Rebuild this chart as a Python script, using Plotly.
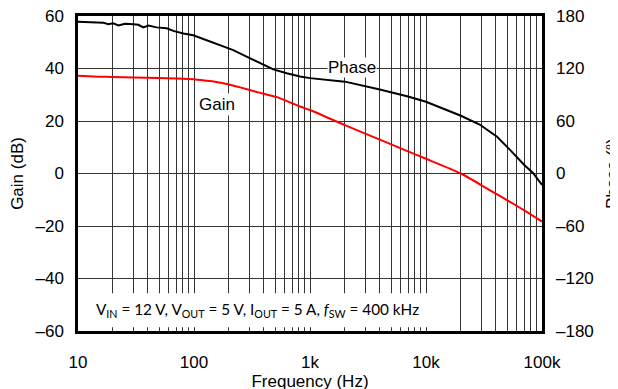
import plotly.graph_objects as go

# ---- data ----
gain_freq = [10, 15, 20, 30, 50, 70, 100, 130, 160, 192, 250, 350, 520, 820, 1000,
             2000, 4000, 7000, 10000, 20000, 35000, 53000, 75000, 100000]
gain_db = [37.2, 36.9, 36.8, 36.6, 36.4, 36.2, 35.9, 35.3, 34.8, 34.1, 32.8, 31.0, 29.1, 25.5, 24.2,
           18.4, 12.9, 8.4, 5.6, 0.0, -6.2, -10.8, -14.8, -18.3]

phase_freq = [10, 13.5, 16.5, 18.2, 20.1, 22.3, 25.4, 30, 33.1, 36.6, 40.4, 47.6, 58.2, 66.4, 81,
              98.6, 128, 167, 218, 284, 371, 483, 630, 820, 1000, 2000, 4000, 7000, 10000,
              20000, 29000, 41000, 53000, 70000, 83600, 100000]
phase_deg = [173.5, 172.8, 172.4, 170.5, 171.7, 169.2, 171.2, 170.5, 170.0, 167.0, 169.0, 167.0, 166.0, 163.0, 160.0,
             158.0, 152.6, 147.0, 141.0, 133.6, 126.0, 119.0, 114.6, 110.8, 109.0, 105.0, 96.0, 88.0, 82.0,
             66.0, 56.0, 42.0, 27.0, 10.0, 0.6, -13.0]

x_decades = [10, 100, 1000, 10000, 100000]
x_decade_labels = ["10", "100", "1k", "10k", "100k"]
gain_ticks = [-60, -40, -20, 0, 20, 40, 60]
gain_tick_labels = ["\u201360", "\u201340", "\u201320", "0", "20", "40", "60"]
phase_ticks = [-180, -120, -60, 0, 60, 120, 180]
phase_tick_labels = ["\u2013180", "\u2013120", "\u201360", "0", "60", "120", "180"]

# x ticks: every 1..9 multiple gets a gridline, only decades get a label
x_tickvals, x_ticktext = [], []
for d, lab in zip(x_decades, x_decade_labels):
    x_tickvals.append(d)
    x_ticktext.append(lab)
    if d < x_decades[-1]:
        for m in range(2, 10):
            x_tickvals.append(d * m)
            x_ticktext.append("")

FONT = "Liberation Sans, Arial, sans-serif"
FS = 17

fig = go.Figure()
fig.add_trace(go.Scatter(x=gain_freq, y=gain_db, mode="lines", name="Gain",
                         line=dict(color="#ff0000", width=2, shape="spline", smoothing=0.6),
                         yaxis="y"))
fig.add_trace(go.Scatter(x=phase_freq, y=phase_deg, mode="lines", name="Phase",
                         line=dict(color="#000000", width=2),
                         yaxis="y2"))

# the page body adds an 8 px offset; margins below compensate for it
fig.update_layout(
    width=618, height=389,
    margin=dict(l=70, r=84, t=8, b=66, autoexpand=False),
    paper_bgcolor="white", plot_bgcolor="white",
    showlegend=False,
    font=dict(family=FONT, size=FS, color="black"),
    xaxis=dict(type="log", range=[1, 5], tickvals=x_tickvals, ticktext=x_ticktext,
               showgrid=True, gridcolor="#333333", gridwidth=1,
               showline=True, linecolor="black", linewidth=2.5, mirror=True,
               ticks="", ticklen=0, ticklabelstandoff=14, zeroline=False, automargin=False,
               ticklabeloverflow="allow",
               title=dict(text="Frequency (Hz)", standoff=4,
                          font=dict(family=FONT, size=FS))),
    yaxis=dict(range=[-60, 60], tickvals=gain_ticks, ticktext=gain_tick_labels,
               showgrid=True, gridcolor="#333333", gridwidth=1,
               showline=True, linecolor="black", linewidth=2.5, mirror=True,
               ticks="", ticklen=0, ticklabelstandoff=8, zeroline=False, automargin=False,
               ticklabeloverflow="allow",
               title=dict(text="Gain (dB)", standoff=10,
                          font=dict(family=FONT, size=FS))),
    yaxis2=dict(range=[-180, 180], tickvals=phase_ticks, ticktext=phase_tick_labels,
                overlaying="y", side="right", showgrid=False, zeroline=False,
                showline=False, ticks="", ticklen=0, ticklabelstandoff=13, automargin=False,
                ticklabeloverflow="allow",
                title=dict(text="Phase (\u00b0)", standoff=13,
                           font=dict(family=FONT, size=FS))),
)

# white box behind the operating-condition note (hides gridlines)
fig.add_shape(type="rect", xref="paper", yref="paper",
              x0=0.004, x1=0.81, y0=0.012, y1=0.12,
              fillcolor="white", line=dict(width=0), layer="above")

fig.add_annotation(xref="paper", yref="paper", x=0.387, y=0.066,
                   text="V<sub>IN</sub> = 12 V, V<sub>OUT</sub> = 5 V, I<sub>OUT</sub> = 5 A, "
                        "<i>f</i><sub>SW</sub> = 400 kHz",
                   showarrow=False, font=dict(family="Lato, sans-serif", size=15.3, color="black"),
                   xanchor="center", yanchor="middle")

fig.add_annotation(x=2.2, y=26.2, xref="x", yref="y", text="Gain", showarrow=False,
                   bgcolor="white", font=dict(family=FONT, size=FS, color="black"), borderpad=1)
fig.add_annotation(x=3.36, y=40.2, xref="x", yref="y", text="Phase", showarrow=False,
                   bgcolor="white", font=dict(family=FONT, size=FS, color="black"), borderpad=0)

fig.write_html("out.html")
